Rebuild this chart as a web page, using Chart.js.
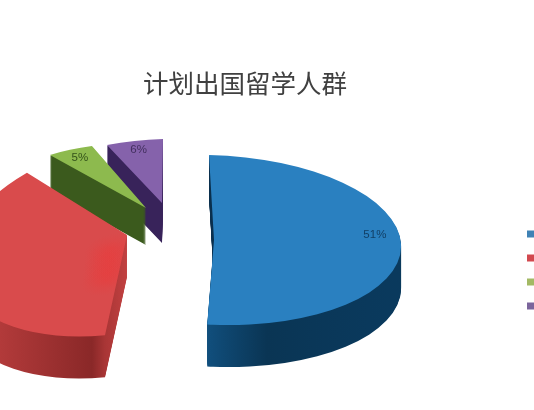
<!DOCTYPE html>
<html>
<head>
<meta charset="utf-8">
<title>计划出国留学人群</title>
<script src="https://cdn.jsdelivr.net/npm/chart.js@4"></script>
<style>
  html, body { margin: 0; padding: 0; background: #fff; overflow: hidden; width: 534px; height: 410px; }
  .crop { position: relative; width: 534px; height: 410px; overflow: hidden; }
  #pie { position: absolute; left: -59px; top: 0; }
</style>
</head>
<body>
<div class="crop"><canvas id="pie" width="608" height="540"></canvas></div>
<script>
  // legend text is cut off in the picture, only the squares can be seen
  const categories = ['', '', '', ''];
  const shares = [51, 38, 5, 6];
  const faceColors = ['#2a80c0', '#d94b4c', '#8dba4e', '#8562ab'];
  const legendColors = ['#3f82b5', '#d2484e', '#a3b964', '#7b659c'];
  const labelColors = ['#123f66', '#5a1a1a', '#33521a', '#43305f'];

  // how each slice is laid flat: apex on the canvas, tilt matrix, wall height, wall colours
  const tilt = [
    { x: 273, y: 240, m: [187, 4, 5, 85], depth: 42, slant: 0.3, wall: [[0, '#0a2f4d'], [0.55, '#0a2f4d'], [0.6, '#11507f'], [0.75, '#0a3554'], [1, '#0a3a5e']], label: [0.86, -11] },
    { x: 186, y: 235, m: [170.6, -22, -11.3, 99], depth: 42, slant: 0, wall: [[0, '#c84444'], [0.43, '#8a2828'], [0.5, '#c24141'], [1, '#c24141']], label: [0.87, 0] },
    { x: 205, y: 208, m: [154.4, 5, -3, 64.7], depth: 37, slant: 0, wall: [[0, '#3b5a1d'], [1, '#3b5a1d']], label: [0.87, 0] },
    { x: 221, y: 203, m: [152, -4, -1, 64], depth: 40, slant: 0, wall: [[0, '#38235a'], [1, '#38235a']], label: [0.85, 0] }
  ];
  const drawOrder = [3, 2, 1, 0];

  function flatten(ctx, arc, t, drop) {
    const r = arc.outerRadius;
    ctx.translate(t.x, t.y + drop);
    ctx.transform(t.m[0] / r, t.m[1] / r, t.m[2] / r, t.m[3] / r, 0, 0);
    ctx.translate(-arc.x, -arc.y);
  }

  function paint(ctx, arc, fill) {
    const copy = Object.create(arc);
    copy.options = Object.assign({}, arc.options, { backgroundColor: fill, borderWidth: 0 });
    copy.draw(ctx);
  }

  function glowAt(ctx, arc, u, v, size) {
    const r = arc.outerRadius;
    const glow = ctx.createRadialGradient(arc.x + u * r, arc.y + v * r, 0, arc.x + u * r, arc.y + v * r, size * r);
    glow.addColorStop(0, 'rgba(235,58,58,0.4)');
    glow.addColorStop(1, 'rgba(235,58,58,0)');
    paint(ctx, arc, glow);
  }

  const tiltedPie = {
    id: 'tiltedPie',
    beforeDatasetsDraw(chart) {
      const ctx = chart.ctx;
      const arcs = chart.getDatasetMeta(0).data;
      drawOrder.forEach(i => {
        const arc = arcs[i], t = tilt[i], r = arc.outerRadius;
        const wall = ctx.createLinearGradient(arc.x - r, arc.y - t.slant * r, arc.x + r, arc.y + t.slant * r);
        t.wall.forEach(s => wall.addColorStop(s[0], s[1]));
        for (let d = t.depth; d > 0; d--) {
          ctx.save();
          flatten(ctx, arc, t, d);
          paint(ctx, arc, wall);
          ctx.restore();
        }
        ctx.save();
        flatten(ctx, arc, t, 0);
        paint(ctx, arc, faceColors[i]);
        if (i === 1) {
          // the brighter patch on the red face
          [0.12, 0.2, 0.28, 0.36, 0.44].forEach(v => glowAt(ctx, arc, -0.09, v, 0.15));
        }
        ctx.restore();

        // percent label
        const mid = (arc.startAngle + arc.endAngle) / 2;
        const ux = Math.cos(mid) * t.label[0], uy = Math.sin(mid) * t.label[0];
        ctx.save();
        ctx.font = '11.5px "Liberation Sans"';
        ctx.fillStyle = labelColors[i];
        ctx.textAlign = 'center';
        ctx.textBaseline = 'middle';
        ctx.fillText(shares[i] + '%', t.x + t.m[0] * ux + t.m[2] * uy, t.y + t.m[1] * ux + t.m[3] * uy + t.label[1]);
        ctx.restore();
      });
      return false;
    }
  };

  new Chart(document.getElementById('pie'), {
    type: 'pie',
    data: {
      labels: categories,
      datasets: [{ data: shares, backgroundColor: faceColors, borderWidth: 0 }]
    },
    options: {
      responsive: false,
      animation: false,
      plugins: {
        tooltip: { enabled: false },
        title: {
          display: true,
          text: '计划出国留学人群',
          color: '#404040',
          font: { family: '"Noto Sans CJK SC"', size: 25.5, weight: 'normal' },
          padding: { top: 68, bottom: 31 }
        },
        legend: {
          position: 'right',
          labels: {
            boxWidth: 7,
            boxHeight: 7,
            padding: 14,
            font: { size: 10 },
            generateLabels: () => categories.map((c, i) => ({ text: c, fillStyle: legendColors[i], strokeStyle: legendColors[i], lineWidth: 0, index: i }))
          }
        }
      }
    },
    plugins: [tiltedPie]
  });
</script>
</body>
</html>
